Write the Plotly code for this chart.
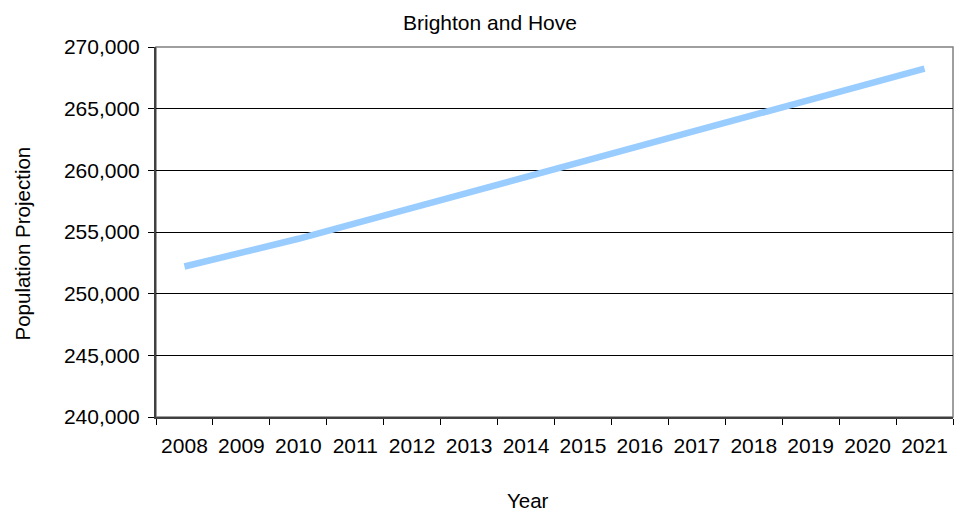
import plotly.graph_objects as go

# ---- data ----
years = ["2008", "2009", "2010", "2011", "2012", "2013", "2014",
         "2015", "2016", "2017", "2018", "2019", "2020", "2021"]
population = [252200, 253300, 254450, 255700, 256950, 258200, 259450,
              260700, 261950, 263200, 264450, 265700, 266970, 268250]
y_tick_values = [240000, 245000, 250000, 255000, 260000, 265000, 270000]
y_tick_labels = ["240,000", "245,000", "250,000", "255,000", "260,000", "265,000", "270,000"]

chart_title = "Brighton and Hove"
x_title = "Year"
y_title = "Population Projection"

FONT = "Liberation Sans, Arial, sans-serif"

fig = go.Figure()
fig.add_trace(go.Scatter(
    x=years, y=population, mode="lines",
    line=dict(color="#99CCFF", width=6.5),
    hoverinfo="x+y", showlegend=False,
))

fig.update_layout(
    width=962, height=511, autosize=False,
    margin=dict(l=156, r=9, t=47, b=94, pad=0),
    paper_bgcolor="white", plot_bgcolor="white",
    font=dict(family=FONT, size=21, color="black"),
    showlegend=False,
    xaxis=dict(
        type="category", range=[-0.5, 13.5],
        tickson="boundaries", ticks="outside", ticklen=6, tickwidth=1, tickcolor="black",
        showline=True, linecolor="#404040", linewidth=2,
        showgrid=False, zeroline=False,
        tickfont=dict(family=FONT, size=21, color="black"),
        ticklabelstandoff=9,
    ),
    yaxis=dict(
        range=[240000, 270000],
        tickmode="array", tickvals=y_tick_values, ticktext=y_tick_labels,
        ticks="outside", ticklen=6, tickwidth=1, tickcolor="black",
        showline=True, linecolor="#404040", linewidth=2,
        showgrid=True, gridcolor="black", gridwidth=1,
        zeroline=False,
        tickfont=dict(family=FONT, size=21, color="black"),
        ticklabelstandoff=4,
    ),
    shapes=[dict(type="rect", xref="paper", yref="paper", x0=0, y0=0, x1=1, y1=1,
                 line=dict(color="#808080", width=1.5), layer="below")],
    annotations=[
        dict(text=chart_title, xref="paper", yref="paper",
             x=(489.5 - 156) / 797, y=(417 - 22) / 370, showarrow=False,
             xanchor="center", yanchor="middle",
             font=dict(family=FONT, size=21, color="black")),
        dict(text=x_title, xref="paper", yref="paper",
             x=(527.5 - 156) / 797, y=(417 - 501) / 370, showarrow=False,
             xanchor="center", yanchor="middle",
             font=dict(family=FONT, size=20.5, color="black")),
        dict(text=y_title, xref="paper", yref="paper",
             x=(22 - 156) / 797, y=(417 - 243.5) / 370, showarrow=False,
             xanchor="center", yanchor="middle", textangle=-90,
             font=dict(family=FONT, size=20.5, color="black")),
    ],
)

fig.write_html("out.html", config={"displayModeBar": False},
               post_script="document.body.style.margin='0';document.body.style.overflow='hidden';")
